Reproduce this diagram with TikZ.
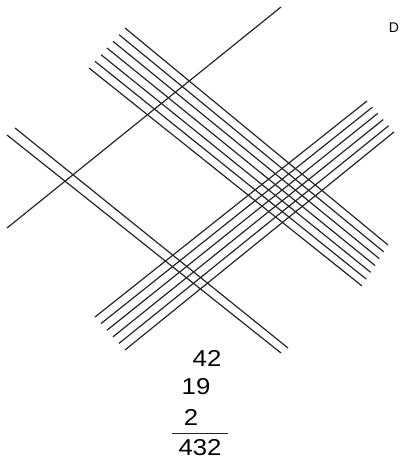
\documentclass[tikz,border=0pt]{standalone}
\usepackage{fontspec}
\setmainfont{Liberation Sans}
\begin{document}
\begin{tikzpicture}[x=1pt,y=-1pt,
  stick/.style={draw=black!85,line width=1.2pt},
  digit/.style={inner sep=0pt,font=\fontsize{23}{25}\selectfont,xscale=1.12}]
\useasboundingbox (0,0) rectangle (401,462);
% single NE line
\coordinate (s1a) at (7,228); \coordinate (s1b) at (281,7);
\draw[stick] (s1a) -- (s1b);
% pair of NW-SE lines
\coordinate (p1a) at (7,135); \coordinate (p1b) at (281,353);
\coordinate (p2a) at (15,128); \coordinate (p2b) at (288,348);
\draw[stick] (p1a) -- (p1b);
\draw[stick] (p2a) -- (p2b);
% seven NW-SE lines
\foreach \i in {0,...,6}{
  \coordinate (u\i a) at ({125-6*\i},{28+6.67*\i});
  \coordinate (u\i b) at ({388-4.33*\i},{245+6.83*\i});
  \draw[stick] (u\i a) -- (u\i b);
}
% six SW-NE lines
\foreach \i in {0,...,5}{
  \coordinate (l\i a) at ({95+6*\i},{317+6.6*\i});
  \coordinate (l\i b) at ({367+5.4*\i},{101+6.2*\i});
  \draw[stick] (l\i a) -- (l\i b);
}
% numbers
\node[digit] (n42) at (207,358) {42};
\node[digit] (n19) at (196,387) {19};
\node[digit] (n2) at (191,417) {2};
\coordinate (ra) at (172,433); \coordinate (rb) at (228,433);
\draw[draw=black!85,line width=1pt] (ra) -- (rb);
\node[digit] (n432) at (200,448) {432};
\node[inner sep=0pt,font=\fontsize{14}{16}\selectfont] (D) at (394,28) {D};
\end{tikzpicture}
\end{document}
